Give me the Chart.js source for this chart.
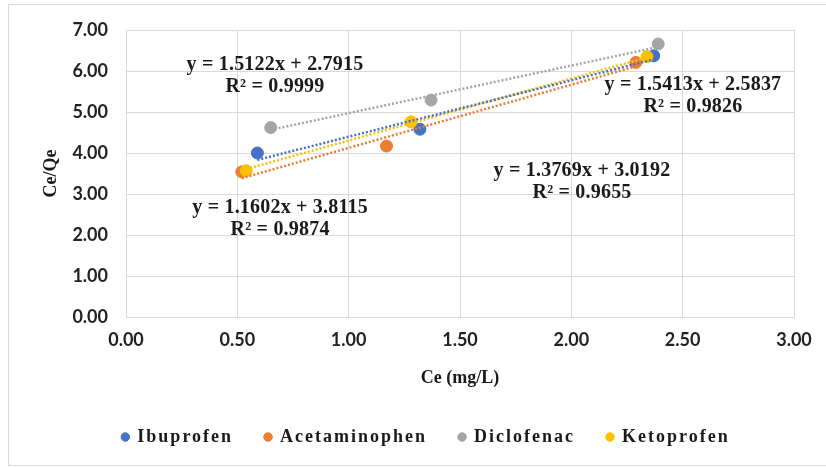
<!DOCTYPE html>
<html>
<head>
<meta charset="utf-8">
<script src="https://cdn.jsdelivr.net/npm/chart.js@4.4.0/dist/chart.umd.min.js"></script>
<style>
html, body { margin: 0; padding: 0; background: #fff; }
#wrap { position: relative; width: 826px; height: 467px; overflow: hidden; }
#moldura { position: absolute; left: 8px; top: 4px; width: 840px; height: 462px; border: 1px solid #d9d9d9; box-sizing: border-box; }
canvas { position: absolute; left: 0; top: 0; }
</style>
</head>
<body>
<div id="wrap"><div id="moldura"></div><canvas id="grafico" width="826" height="467"></canvas></div>
<script>
// series
const farmacos = ["Ibuprofen", "Acetaminophen", "Diclofenac", "Ketoprofen"];
const cores = ["#4472C4", "#ED7D31", "#A5A5A5", "#FFC000"];

// Ce (mg/L) e Ce/Qe de cada farmaco
const ceIbuprofen = [0.59, 1.32, 2.37];
const qeIbuprofen = [4.00, 4.58, 6.37];
const ceAcetaminophen = [0.52, 1.17, 2.29];
const qeAcetaminophen = [3.54, 4.17, 6.21];
const ceDiclofenac = [0.65, 1.37, 2.39];
const qeDiclofenac = [4.62, 5.29, 6.66];
const ceKetoprofen = [0.54, 1.28, 2.34];
const qeKetoprofen = [3.57, 4.76, 6.35];

// linhas de tendencia (y = a x + b)
const inclinacao = [1.3769, 1.5413, 1.1602, 1.5122];
const intercepto = [3.0192, 2.5837, 3.8115, 2.7915];
const r2 = ["0.9655", "0.9826", "0.9874", "0.9999"];

// onde cada equacao aparece (em unidades do grafico)
const posEquacao = [[2.048, 3.29], [2.546, 5.40], [0.692, 2.40], [0.669, 5.88]];

const ceTodos = [ceIbuprofen, ceAcetaminophen, ceDiclofenac, ceKetoprofen];
const qeTodos = [qeIbuprofen, qeAcetaminophen, qeDiclofenac, qeKetoprofen];

let datasets = [];
farmacos.forEach((nome, i) => {
    datasets.push({
        label: nome,
        data: ceTodos[i].map((x, k) => ({ x: x, y: qeTodos[i][k] })),
        backgroundColor: cores[i],
        borderColor: cores[i],
        borderWidth: 1,
        pointRadius: 6,
        pointHoverRadius: 6,
        order: 4 - i + 1
    });
});
farmacos.forEach((nome, i) => {
    let xmin = Math.min(...ceTodos[i]);
    let xmax = Math.max(...ceTodos[i]);
    datasets.push({
        label: "Linear (" + nome + ")",
        data: [
            { x: xmin, y: inclinacao[i] * xmin + intercepto[i] },
            { x: xmax, y: inclinacao[i] * xmax + intercepto[i] }
        ],
        showLine: true,
        borderColor: cores[i],
        backgroundColor: cores[i],
        borderWidth: 2.5,
        borderDash: [2, 2],
        pointRadius: 0,
        order: 0
    });
});

const equacoes = {
    id: 'equacoes',
    afterDatasetsDraw(chart) {
        const c = chart.ctx;
        const sx = chart.scales.x, sy = chart.scales.y;
        c.save();
        c.font = 'bold 20px "Liberation Serif"';
        c.letterSpacing = '0.2px';
        c.fillStyle = '#1a1a1a';
        c.textAlign = 'center';
        c.textBaseline = 'middle';
        posEquacao.forEach((p, i) => {
            let px = sx.getPixelForValue(p[0]);
            let py = sy.getPixelForValue(p[1]);
            let sinal = intercepto[i] >= 0 ? " + " : " - ";
            c.fillText("y = " + inclinacao[i].toFixed(4) + "x" + sinal + Math.abs(intercepto[i]).toFixed(4), px, py - 11);
            c.fillText("R\u00B2 = " + r2[i], px, py + 11);
        });
        c.restore();
    }
};

const fonteTick = { family: 'Lato', weight: 'bold', size: 18 };
const fonteTitulo = { family: '"Liberation Serif"', weight: 'bold', size: 18 };

const ctx = document.getElementById('grafico');
const grafico = new Chart(ctx, {
    type: 'scatter',
    data: { datasets: datasets },
    options: {
        responsive: false,
        animation: false,
        devicePixelRatio: 1,
        layout: { padding: { top: 30, right: 32, bottom: 11, left: 58 } },
        plugins: {
            tooltip: { enabled: false },
            legend: {
                position: 'bottom',
                labels: {
                    usePointStyle: true,
                    pointStyle: 'circle',
                    boxWidth: 6,
                    boxHeight: 6,
                    padding: 32,
                    color: '#1a1a1a',
                    font: fonteTitulo,
                    filter: item => item.datasetIndex < 4,
                    sort: (a, b) => a.datasetIndex - b.datasetIndex
                }
            }
        },
        scales: {
            x: {
                type: 'linear',
                min: 0,
                max: 3,
                ticks: { stepSize: 0.5, padding: 12, color: '#222', font: fonteTick, callback: v => v.toFixed(2) },
                grid: { color: '#d9d9d9', lineWidth: 1, drawTicks: false },
                border: { color: '#d9d9d9', width: 1 },
                title: { display: true, text: 'Ce (mg/L)', color: '#1a1a1a', font: fonteTitulo, padding: { top: 0, bottom: 7 } },
                afterFit: s => { s.height = 79; }
            },
            y: {
                min: 0,
                max: 7,
                ticks: { stepSize: 1, padding: 18, color: '#222', font: fonteTick, callback: v => v.toFixed(2) },
                grid: { color: '#d9d9d9', lineWidth: 1, drawTicks: false },
                border: { color: '#d9d9d9', width: 1 },
                title: { display: true, text: 'Ce/Qe', color: '#1a1a1a', font: fonteTitulo, padding: { top: -17, bottom: 0 } },
                afterFit: s => { s.width = 68; }
            }
        }
    },
    plugins: [equacoes]
});

// espacamento das letras da legenda, como no original
const leg = grafico.legend;
['fit', 'draw'].forEach(m => {
    const original = leg[m].bind(leg);
    leg[m] = function () {
        leg.ctx.letterSpacing = '2px';
        original();
        leg.ctx.letterSpacing = '0px';
    };
});
grafico.update();
</script>
</body>
</html>
